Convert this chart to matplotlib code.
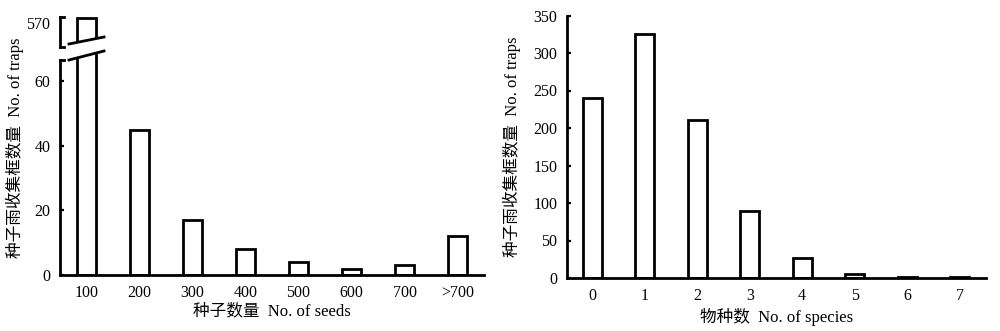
import matplotlib
matplotlib.use("Agg")
import matplotlib.pyplot as plt
from matplotlib.lines import Line2D
from matplotlib.patches import Polygon

plt.rcParams["font.family"] = ["Liberation Serif", "Noto Sans CJK SC"]
plt.rcParams["font.size"] = 11.5

# ---- data ----
seed_labels = ["100", "200", "300", "400", "500", "600", "700", ">700"]
seed_traps = [572, 45, 17, 8, 4, 2, 3, 12]

species_labels = ["0", "1", "2", "3", "4", "5", "6", "7"]
species_traps = [240, 325, 211, 89, 27, 5, 1, 1]

W, H = 1000, 331
LW = 2.0
BAR_W = 0.36
LABEL_SIZE = 12


def px_rect(x0, y0, x1, y1):
    # pixel box (top-left origin) -> figure fraction rect
    return [x0 / W, 1 - y1 / H, (x1 - x0) / W, (y1 - y0) / H]


def fig_pt(x, y):
    return (x / W, 1 - y / H)


def style_axis(ax):
    ax.spines["top"].set_visible(False)
    ax.spines["right"].set_visible(False)
    ax.spines["left"].set_linewidth(LW)
    ax.spines["bottom"].set_linewidth(LW)
    ax.tick_params(axis="y", direction="in", length=3, width=1.6, pad=7)
    ax.tick_params(axis="x", length=0, pad=7)
    ax.set_facecolor("none")


fig = plt.figure(figsize=(W / 100, H / 100), dpi=100)

# ============================================================
# LEFT : seeds per trap (broken y axis)
# ============================================================
x_pos = list(range(len(seed_labels)))

ax_lo = fig.add_axes(px_rect(60, 51, 484, 275))
ax_hi = fig.add_axes(px_rect(60, 17, 484, 47))

lo_top = (275 - 51) / 3.23
ax_lo.bar(x_pos, seed_traps, width=BAR_W, facecolor="white",
          edgecolor="black", linewidth=LW)
ax_lo.set_ylim(0, lo_top)
ax_lo.set_xlim(-0.5, 7.5)
ax_lo.set_yticks([0, 20, 40, 60])
ax_lo.set_xticks(x_pos)
ax_lo.set_xticklabels(seed_labels)
style_axis(ax_lo)
ax_lo.spines["left"].set_bounds(0, (275 - 60) / 3.23)
ax_lo.set_xlabel("种子数量  No. of seeds", labelpad=2, fontsize=LABEL_SIZE)

ax_hi.bar(x_pos, seed_traps, width=BAR_W, facecolor="white",
          edgecolor="black", linewidth=LW)
ax_hi.set_ylim(560, 572.5)
ax_hi.set_xlim(-0.5, 7.5)
ax_hi.set_yticks([570])
style_axis(ax_hi)
ax_hi.tick_params(axis="y", length=0)
ax_hi.spines["bottom"].set_visible(False)
ax_hi.set_xticks([])

# white gap between the break slashes + the slashes
gap = Polygon([fig_pt(69, 44), fig_pt(104, 37), fig_pt(104, 51), fig_pt(69, 60)],
              closed=True, transform=fig.transFigure, facecolor="white",
              edgecolor="none", zorder=10)
fig.add_artist(gap)
for (xa, ya, xb, yb) in [(69, 44, 104, 37), (69, 60, 104, 51)]:
    fig.add_artist(Line2D(*zip(fig_pt(xa, ya), fig_pt(xb, yb)),
                          transform=fig.transFigure, color="black",
                          linewidth=LW, zorder=11))
# small caps on the broken spine
for yy in [17, 47, 60]:
    fig.add_artist(Line2D(*zip(fig_pt(60, yy), fig_pt(64, yy)),
                          transform=fig.transFigure, color="black",
                          linewidth=LW, zorder=11))

fig.text(15 / W, 1 - 148 / H, "种子雨收集框数量  No. of traps",
         rotation=90, ha="center", va="center", fontsize=LABEL_SIZE)

# ============================================================
# RIGHT : species per trap
# ============================================================
s_pos = list(range(len(species_labels)))

ax_r = fig.add_axes(px_rect(567, 15.5, 986, 278))
ax_r.bar(s_pos, species_traps, width=BAR_W, facecolor="white",
         edgecolor="black", linewidth=LW)
ax_r.set_ylim(0, 350)
ax_r.set_xlim(-0.48, 7.5)
ax_r.set_yticks(range(0, 351, 50))
ax_r.set_xticks(s_pos)
ax_r.set_xticklabels(species_labels)
style_axis(ax_r)
ax_r.set_xlabel("物种数  No. of species", labelpad=3, fontsize=LABEL_SIZE)

fig.text(512 / W, 1 - 147 / H, "种子雨收集框数量  No. of traps",
         rotation=90, ha="center", va="center", fontsize=LABEL_SIZE)

fig.savefig("out.png", dpi=100)
